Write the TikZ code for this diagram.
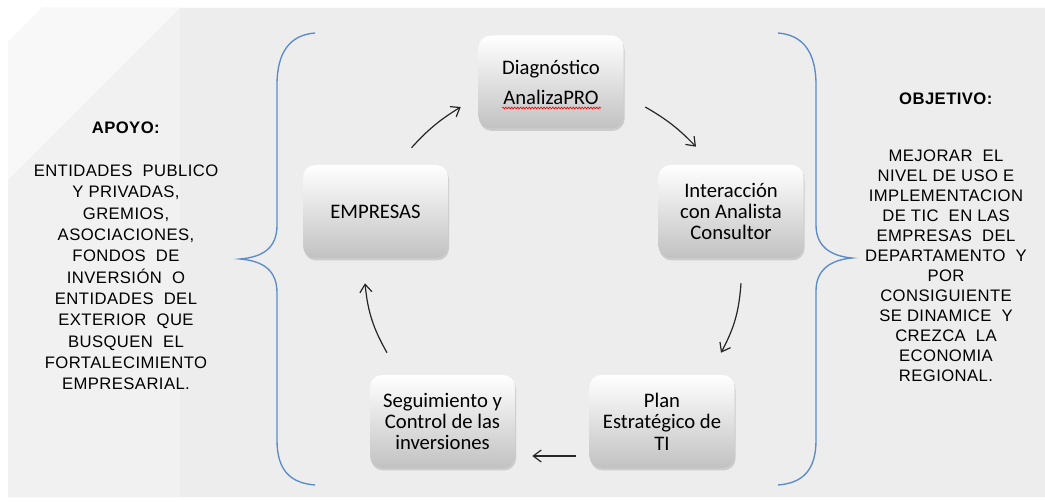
\documentclass[tikz,border=0pt]{standalone}
\usepackage{fontspec}
\setmainfont{Liberation Sans}
\newfontfamily\boxfont{Carlito}
\newfontfamily\ladofont[LetterSpace=2.5]{Liberation Sans}
\usetikzlibrary{positioning,calc,shadows,arrows.meta,decorations.pathmorphing}

\definecolor{fondo}{HTML}{EDEDED}
\definecolor{panel}{HTML}{F1F1F1}
\definecolor{llave}{HTML}{5B8BC9}

\tikzset{
  paso/.style={rectangle,rounded corners=9pt,minimum width=108.75pt,minimum height=69.75pt,
    top color=white,bottom color=black!24,
    drop shadow={opacity=0.3,shadow xshift=0.8pt,shadow yshift=-1.8pt},
    align=center,font=\boxfont\fontsize{15.5}{16}\selectfont},
  flecha/.style={-{Straight Barb[length=6pt,width=9pt]},line width=0.9pt,black!85},
  llaves/.style={draw=llave,line width=1pt},
  lado/.style={align=center,font=\ladofont\fontsize{12.5}{16}\selectfont}
}

\begin{document}
\begin{tikzpicture}[x=0.75pt,y=-0.75pt]
\useasboundingbox (0,0) rectangle (1045,502);
% fondo
\fill[white] (0,0) rectangle (1045,502);
\fill[fondo] (8,43)--(43,8)--(1045,8)--(1045,497)--(8,497)--cycle;
\fill[panel] (8,43)--(43,8)--(180,8)--(180,497)--(8,497)--cycle;
\fill[white!50!panel] (8,43)--(43,8)--(180,8)--(8,180)--cycle;

% ciclo
\node[paso] (diag) at (551,82) {Diagnóstico\\[6.5pt]AnalizaPRO};
\node[paso] (emp) at (375.5,211.5) {EMPRESAS};
\node[paso] (inter) at (731,211.5) {Interacción\\con Analista\\Consultor};
\node[paso] (plan) at (662,421.5) {Plan\\Estratégico de\\TI};
\node[paso] (segu) at (442.5,421.5) {Seguimiento y\\Control de las\\inversiones};
\draw[red,line width=0.5pt,decorate,decoration={snake,segment length=2.2pt,amplitude=0.7pt}]
  ($(diag)+(-49,26)$)--($(diag)+(50,26)$);

\draw[flecha] ($(emp.north)+(36,-17)$) to[bend left=8] ($(diag.west)+(-17.5,25)$);
\draw[flecha] ($(diag.east)+(21.5,25)$) to[bend left=8] ($(inter.north)+(-35,-18)$);
\draw[flecha] ($(inter.south)+(10,25)$) to[bend left=12] ($(plan.north)+(59,-22)$);
\draw[flecha] ($(plan.west)+(-13.5,34.5)$) -- ($(segu.east)+(17,34.5)$);
\draw[flecha] ($(segu.north)+(-55.5,-22)$) to[bend left=12] ($(emp.south)+(-10.5,25)$);

% llaves
\draw[llaves] (315,33) .. controls (290,35) and (277,52) .. (277,85) -- (277,225)
  .. controls (277,248) and (263,257) .. (240,259) .. controls (263,261) and (277,270) .. (277,293)
  -- (277,440) .. controls (277,470) and (290,483) .. (315,485);
\draw[llaves] (778,33) .. controls (803,35) and (816,52) .. (816,85) -- (816,225)
  .. controls (816,246) and (830,256) .. (852,258) .. controls (830,260) and (816,270) .. (816,291)
  -- (816,440) .. controls (816,470) and (803,483) .. (778,485);

\node[lado] (apoyo) at (126,256) {\textbf{APOYO:}\\[16pt]ENTIDADES~ PUBLICO\\Y PRIVADAS,\\GREMIOS,\\ASOCIACIONES,\\FONDOS~ DE\\INVERSIÓN~ O\\ENTIDADES~ DEL\\EXTERIOR~ QUE\\BUSQUEN~ EL\\FORTALECIMIENTO\\EMPRESARIAL.};
\node[lado,font=\ladofont\fontsize{12.5}{15}\selectfont] (obj) at (946,237) {\textbf{OBJETIVO:}\\[27.75pt]MEJORAR~ EL\\NIVEL DE USO E\\IMPLEMENTACION\\DE TIC~ EN LAS\\EMPRESAS~ DEL\\DEPARTAMENTO~ Y\\POR\\CONSIGUIENTE\\SE DINAMICE~ Y\\CREZCA~ LA\\ECONOMIA\\REGIONAL.};
\end{tikzpicture}
\end{document}
